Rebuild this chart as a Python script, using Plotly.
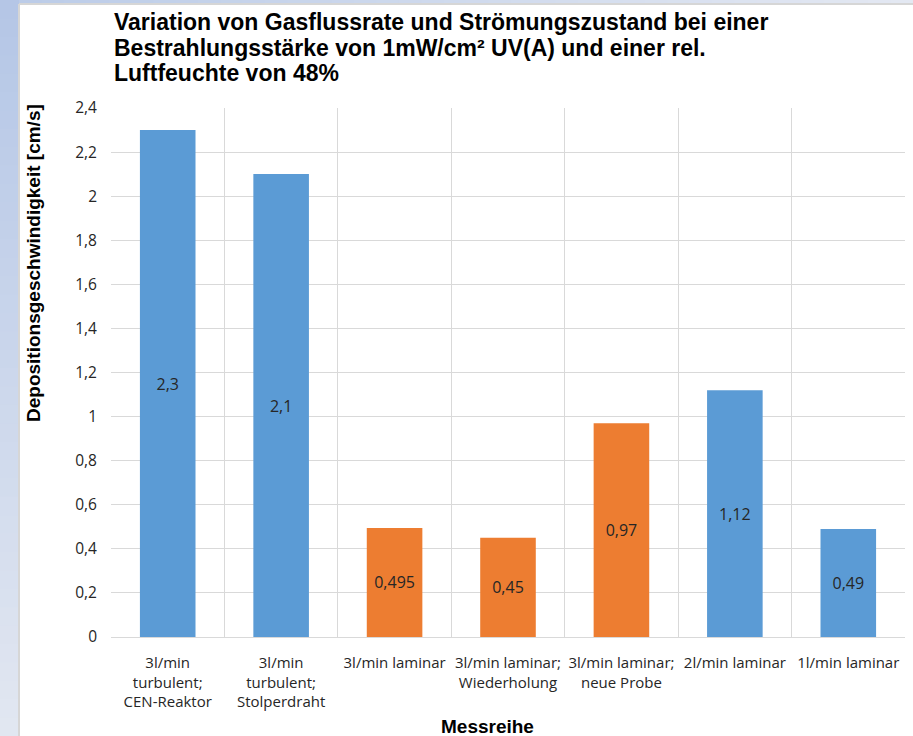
import plotly.graph_objects as go

# Measurement series and deposition velocities [cm/s]
categories = [
    "3l/min<br>turbulent;<br>CEN-Reaktor",
    "3l/min<br>turbulent;<br>Stolperdraht",
    "3l/min laminar",
    "3l/min laminar;<br>Wiederholung",
    "3l/min laminar;<br>neue Probe",
    "2l/min laminar",
    "1l/min laminar",
]
values = [2.3, 2.1, 0.495, 0.45, 0.97, 1.12, 0.49]
value_labels = ["2,3", "2,1", "0,495", "0,45", "0,97", "1,12", "0,49"]
series_group = ["turbulent/ref", "turbulent/ref", "laminar3", "laminar3", "laminar3", "ref", "ref"]

title_lines = [
    "Variation von Gasflussrate und Strömungszustand bei einer",
    "Bestrahlungsstärke von 1mW/cm² UV(A) und einer rel.",
    "Luftfeuchte von 48%",
]

BLUE = "#5b9bd5"
ORANGE = "#ed7d31"
colors = [ORANGE if g == "laminar3" else BLUE for g in series_group]

W, H = 913, 736
L, R, T, B = 111, 8, 108, 99
pw, ph = W - L - R, H - T - B

fig = go.Figure()
fig.add_trace(go.Bar(
    x=list(range(len(values))),
    y=values,
    width=0.49,
    marker=dict(color=colors, line=dict(width=0)),
    text=value_labels,
    textposition="inside",
    insidetextanchor="middle",
    textangle=0,
    textfont=dict(family="Open Sans, Noto Sans, sans-serif", size=16, color="#262626"),
    hoverinfo="skip",
))


def px2x(px):
    return (px - L) / pw


def py2y(py):
    return 1 - (py - T) / ph


def mix(c1, c2, t):
    a = [int(c1[i:i + 2], 16) for i in (1, 3, 5)]
    b = [int(c2[i:i + 2], 16) for i in (1, 3, 5)]
    return "#" + "".join(f"{round(a[k] + (b[k] - a[k]) * t):02x}" for k in range(3))


shapes = []
# slide backdrop: soft blue gradient strips on the left and top edges
C_TOP, C_BOT = "#b4c6e6", "#e2e7f1"
n = 40
for i in range(n):
    y0 = H * i / n
    y1 = H * (i + 1) / n + 1
    shapes.append(dict(type="rect", xref="paper", yref="paper", layer="below",
                       x0=px2x(0), x1=px2x(19), y0=py2y(y1), y1=py2y(y0),
                       fillcolor=mix(C_TOP, C_BOT, (i + 0.5) / n), line=dict(width=0)))
for i in range(n):
    x0 = 19 + (W - 19) * i / n
    x1 = 19 + (W - 19) * (i + 1) / n + 1
    shapes.append(dict(type="rect", xref="paper", yref="paper", layer="below",
                       x0=px2x(x0), x1=px2x(x1), y0=py2y(4), y1=py2y(0),
                       fillcolor=mix("#bccce8", "#e3e8f2", (i + 0.5) / n), line=dict(width=0)))
# chart area border
shapes.append(dict(type="line", xref="paper", yref="paper", layer="below",
                   x0=px2x(19), x1=px2x(19), y0=py2y(H), y1=py2y(4),
                   line=dict(color="#d6d6d6", width=2)))
shapes.append(dict(type="line", xref="paper", yref="paper", layer="below",
                   x0=px2x(19), x1=px2x(W), y0=py2y(4), y1=py2y(4),
                   line=dict(color="#d6d6d6", width=2)))

title_font = dict(family="Liberation Sans, Arial, sans-serif", size=23, color="#000000")
axis_title_font = dict(family="Liberation Sans, Arial, sans-serif", size=19, color="#000000")
tick_font = dict(family="Open Sans, Noto Sans, sans-serif", size=15, color="#262626")
ytick_font = dict(family="Open Sans, Noto Sans, sans-serif", size=15.5, color="#262626")

annotations = []
for line, ypx in zip(title_lines, [22, 48, 73]):
    annotations.append(dict(text=f"<b>{line}</b>", xref="paper", yref="paper",
                            x=px2x(112), y=py2y(ypx), xanchor="left", yanchor="middle",
                            align="left", showarrow=False, font=title_font))
annotations += [
    dict(text="<b>Depositionsgeschwindigkeit [cm/s]</b>",
         xref="paper", yref="paper", x=px2x(33), y=py2y(263),
         xanchor="center", yanchor="middle", textangle=-90, showarrow=False,
         font=axis_title_font),
    dict(text="<b>Messreihe</b>",
         xref="paper", yref="paper", x=px2x(487), y=py2y(726),
         xanchor="center", yanchor="middle", showarrow=False,
         font=axis_title_font),
]

fig.update_layout(
    width=W, height=H,
    margin=dict(l=L, r=R, t=T, b=B),
    paper_bgcolor="#ffffff",
    plot_bgcolor="#ffffff",
    separators=",.",
    showlegend=False,
    bargap=0.5,
    shapes=shapes,
    annotations=annotations,
    xaxis=dict(
        range=[-0.5, 6.5],
        tickmode="array",
        tickvals=list(range(len(categories))),
        ticktext=categories,
        tickfont=tick_font,
        showgrid=False,
        ticks="",
        ticklen=0,
        ticklabelstandoff=12,
        showline=True, linecolor="#d9d9d9", linewidth=1,
        minor=dict(tickmode="array", tickvals=[i - 0.5 for i in range(len(categories) + 1)],
                   showgrid=True, gridcolor="#d9d9d9", gridwidth=1, ticks=""),
        zeroline=False,
        fixedrange=True,
    ),
    yaxis=dict(
        range=[0, 2.4],
        dtick=0.2,
        tick0=0,
        tickfont=ytick_font,
        showgrid=True, gridcolor="#d9d9d9", gridwidth=1,
        zeroline=False,
        ticks="",
        ticklabelstandoff=13,
        fixedrange=True,
    ),
)

fig.write_html("out.html")
